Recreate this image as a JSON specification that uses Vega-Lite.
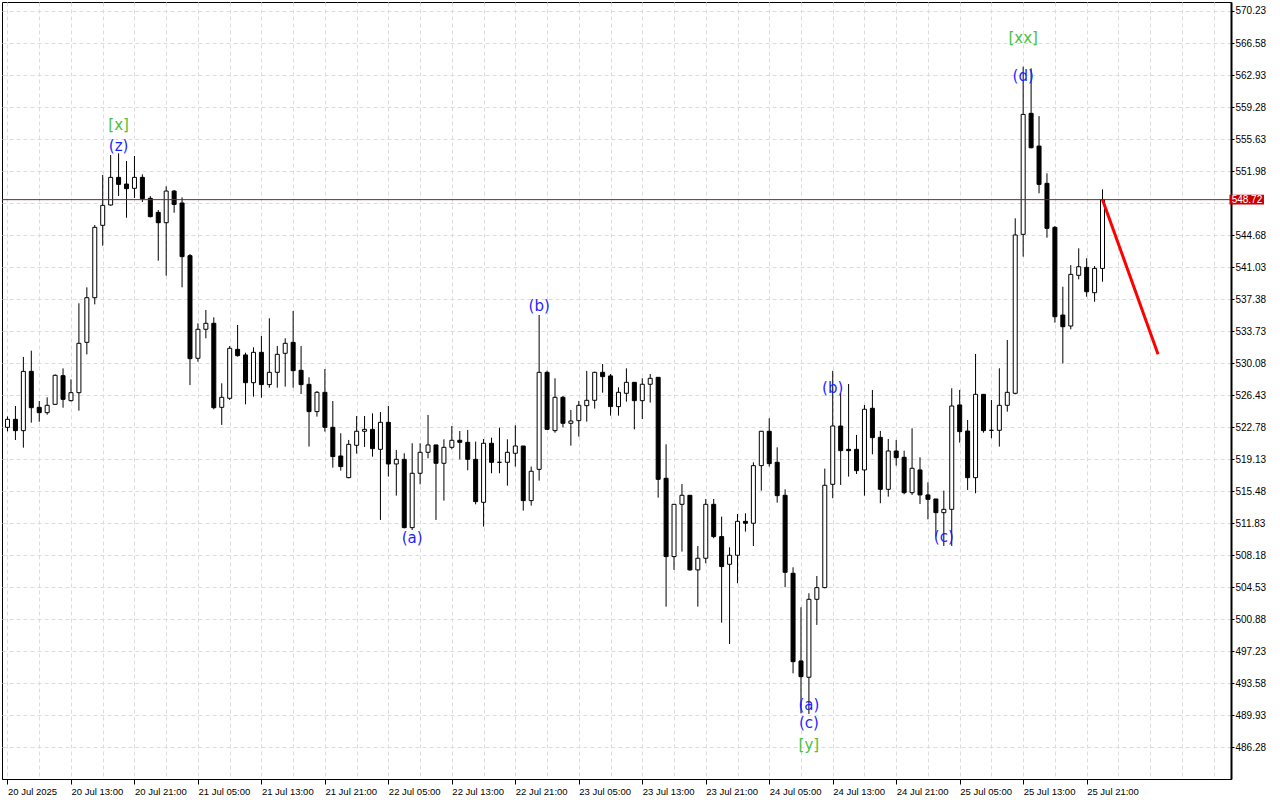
{
  "$schema": "https://vega.github.io/schema/vega-lite/v6.json",
  "width": 1229,
  "height": 777,
  "autosize": {"type": "none"},
  "padding": {"left": 2, "top": 2, "right": 49, "bottom": 21},
  "background": "white",
  "config": {
    "view": {"stroke": "black", "strokeWidth": 1},
    "axis": {"labelOverlap": false, "labelFlush": false, "labelBound": false, "title": null}
  },
  "resolve": {"axis": {"x": "independent", "y": "independent"}},
  "datasets": {
    "candles": [
      {"i":0,"o":522.76,"h":524.0,"l":522.3,"c":523.67},
      {"i":1,"o":523.67,"h":525.19,"l":521.31,"c":522.38},
      {"i":2,"o":522.38,"h":530.78,"l":520.44,"c":529.14},
      {"i":3,"o":529.14,"h":531.5,"l":523.29,"c":525.0},
      {"i":4,"o":525.04,"h":525.76,"l":523.4,"c":524.43},
      {"i":5,"o":524.43,"h":526.18,"l":524.2,"c":525.27},
      {"i":6,"o":525.38,"h":528.8,"l":525.3,"c":528.69},
      {"i":7,"o":528.65,"h":529.48,"l":525.0,"c":525.95},
      {"i":8,"o":525.8,"h":528.23,"l":525.7,"c":526.71},
      {"i":9,"o":526.71,"h":536.9,"l":524.66,"c":532.34},
      {"i":10,"o":532.45,"h":538.72,"l":531.08,"c":537.54},
      {"i":11,"o":537.54,"h":545.83,"l":536.78,"c":545.56},
      {"i":12,"o":545.79,"h":551.53,"l":543.47,"c":548.07},
      {"i":13,"o":548.11,"h":553.81,"l":548.03,"c":551.26},
      {"i":14,"o":551.26,"h":554.0,"l":549.13,"c":550.46},
      {"i":15,"o":550.5,"h":553.12,"l":546.66,"c":549.97},
      {"i":16,"o":550.01,"h":553.7,"l":548.91,"c":551.26},
      {"i":17,"o":551.26,"h":551.6,"l":548.45,"c":548.83},
      {"i":18,"o":548.87,"h":549.13,"l":546.7,"c":546.78},
      {"i":19,"o":547.27,"h":547.54,"l":541.76,"c":546.09},
      {"i":20,"o":546.09,"h":550.24,"l":540.05,"c":549.7},
      {"i":21,"o":549.7,"h":549.82,"l":547.23,"c":548.18},
      {"i":22,"o":548.34,"h":548.98,"l":538.72,"c":542.22},
      {"i":23,"o":542.33,"h":542.52,"l":527.58,"c":530.59},
      {"i":24,"o":530.63,"h":534.62,"l":530.25,"c":533.94},
      {"i":25,"o":533.94,"h":536.14,"l":532.91,"c":534.62},
      {"i":26,"o":534.62,"h":535.3,"l":524.81,"c":525.0},
      {"i":27,"o":525.04,"h":527.78,"l":523.03,"c":526.18},
      {"i":28,"o":526.07,"h":532.03,"l":525.88,"c":531.77},
      {"i":29,"o":531.65,"h":534.43,"l":530.82,"c":530.93},
      {"i":30,"o":531.01,"h":531.27,"l":525.38,"c":527.85},
      {"i":31,"o":527.85,"h":531.88,"l":526.26,"c":531.31},
      {"i":32,"o":531.31,"h":533.18,"l":526.14,"c":527.63},
      {"i":33,"o":527.63,"h":535.19,"l":527.28,"c":529.03},
      {"i":34,"o":529.03,"h":532.03,"l":527.28,"c":531.08},
      {"i":35,"o":531.2,"h":532.91,"l":527.4,"c":532.34},
      {"i":36,"o":532.45,"h":536.03,"l":527.28,"c":529.22},
      {"i":37,"o":529.26,"h":532.03,"l":526.56,"c":527.63},
      {"i":38,"o":527.66,"h":528.46,"l":520.56,"c":524.55},
      {"i":39,"o":524.55,"h":526.9,"l":523.98,"c":526.75},
      {"i":40,"o":526.75,"h":529.41,"l":522.27,"c":522.76},
      {"i":41,"o":522.76,"h":525.76,"l":518.16,"c":519.42},
      {"i":42,"o":519.49,"h":522.08,"l":517.82,"c":518.28},
      {"i":43,"o":517.02,"h":521.32,"l":516.95,"c":520.82},
      {"i":44,"o":520.71,"h":524.05,"l":519.76,"c":522.31},
      {"i":45,"o":522.31,"h":524.05,"l":520.52,"c":522.53},
      {"i":46,"o":522.53,"h":524.36,"l":519.42,"c":520.33},
      {"i":47,"o":520.25,"h":524.51,"l":512.2,"c":523.33},
      {"i":48,"o":523.33,"h":525.19,"l":517.14,"c":518.58},
      {"i":49,"o":518.58,"h":520.18,"l":514.97,"c":519.11},
      {"i":50,"o":519.11,"h":519.8,"l":511.24,"c":511.32},
      {"i":51,"o":511.32,"h":520.94,"l":511.05,"c":517.52},
      {"i":52,"o":517.52,"h":520.94,"l":516.26,"c":519.91},
      {"i":53,"o":519.91,"h":524.17,"l":519.23,"c":520.75},
      {"i":54,"o":520.75,"h":520.75,"l":512.2,"c":518.66},
      {"i":55,"o":518.66,"h":521.39,"l":514.4,"c":520.48},
      {"i":56,"o":520.48,"h":522.91,"l":520.25,"c":521.28},
      {"i":57,"o":521.28,"h":522.34,"l":519.11,"c":521.05},
      {"i":58,"o":521.05,"h":522.46,"l":517.86,"c":519.11},
      {"i":59,"o":519.11,"h":521.13,"l":513.98,"c":514.29},
      {"i":60,"o":514.21,"h":521.43,"l":511.44,"c":520.94},
      {"i":61,"o":520.94,"h":521.58,"l":517.52,"c":518.77},
      {"i":62,"o":518.77,"h":522.72,"l":517.52,"c":518.77},
      {"i":63,"o":518.77,"h":521.39,"l":516.11,"c":519.91},
      {"i":64,"o":519.8,"h":522.99,"l":518.28,"c":520.63},
      {"i":65,"o":520.63,"h":520.63,"l":513.26,"c":514.4},
      {"i":66,"o":514.4,"h":518.28,"l":513.83,"c":517.75},
      {"i":67,"o":517.97,"h":535.57,"l":516.68,"c":529.03},
      {"i":68,"o":529.03,"h":529.22,"l":522.46,"c":522.53},
      {"i":69,"o":522.38,"h":528.35,"l":522.15,"c":526.18},
      {"i":70,"o":526.18,"h":526.33,"l":522.76,"c":523.22},
      {"i":71,"o":523.22,"h":524.74,"l":520.67,"c":523.48},
      {"i":72,"o":523.52,"h":525.77,"l":521.7,"c":525.27},
      {"i":73,"o":525.23,"h":529.19,"l":523.41,"c":525.84},
      {"i":74,"o":525.84,"h":529.1,"l":524.89,"c":529.03},
      {"i":75,"o":529.03,"h":529.98,"l":526.71,"c":528.54},
      {"i":76,"o":528.62,"h":528.84,"l":524.09,"c":525.12},
      {"i":77,"o":525.12,"h":527.32,"l":524.09,"c":526.75},
      {"i":78,"o":526.64,"h":529.49,"l":525.69,"c":527.89},
      {"i":79,"o":527.89,"h":527.89,"l":522.53,"c":525.8},
      {"i":80,"o":525.8,"h":528.35,"l":523.71,"c":527.67},
      {"i":81,"o":527.67,"h":528.84,"l":525.58,"c":528.35},
      {"i":82,"o":528.46,"h":528.46,"l":514.74,"c":516.83},
      {"i":83,"o":516.95,"h":520.82,"l":502.31,"c":508.02},
      {"i":84,"o":508.02,"h":514.0,"l":506.5,"c":513.98},
      {"i":85,"o":513.98,"h":516.3,"l":508.59,"c":515.01},
      {"i":86,"o":515.01,"h":515.01,"l":506.42,"c":506.5},
      {"i":87,"o":506.5,"h":509.23,"l":502.31,"c":507.83},
      {"i":88,"o":507.83,"h":514.59,"l":507.26,"c":513.98},
      {"i":89,"o":513.98,"h":514.59,"l":510.11,"c":510.3},
      {"i":90,"o":510.3,"h":512.58,"l":500.49,"c":506.88},
      {"i":91,"o":507.14,"h":509.08,"l":498.06,"c":508.17},
      {"i":92,"o":508.17,"h":512.88,"l":504.98,"c":512.04},
      {"i":93,"o":512.04,"h":512.96,"l":510.87,"c":511.82},
      {"i":94,"o":511.82,"h":518.77,"l":509.23,"c":518.39},
      {"i":95,"o":518.39,"h":522.35,"l":515.54,"c":522.31},
      {"i":96,"o":522.31,"h":523.79,"l":518.28,"c":518.62},
      {"i":97,"o":518.77,"h":520.48,"l":514.17,"c":514.97},
      {"i":98,"o":515.01,"h":515.69,"l":504.52,"c":506.23},
      {"i":99,"o":506.12,"h":506.8,"l":494.71,"c":496.04},
      {"i":100,"o":496.12,"h":502.24,"l":490.15,"c":494.33},
      {"i":101,"o":494.26,"h":503.84,"l":490.08,"c":503.15},
      {"i":102,"o":503.15,"h":505.81,"l":500.23,"c":504.48},
      {"i":103,"o":504.48,"h":518.05,"l":504.41,"c":516.15},
      {"i":104,"o":516.26,"h":529.2,"l":514.67,"c":522.91},
      {"i":105,"o":522.91,"h":526.64,"l":516.19,"c":520.1},
      {"i":106,"o":520.25,"h":527.7,"l":517.14,"c":520.1},
      {"i":107,"o":520.25,"h":521.89,"l":517.44,"c":517.82},
      {"i":108,"o":517.9,"h":525.31,"l":514.97,"c":524.82},
      {"i":109,"o":524.93,"h":527.02,"l":519.68,"c":521.58},
      {"i":110,"o":521.62,"h":522.35,"l":514.1,"c":515.69},
      {"i":111,"o":515.69,"h":521.43,"l":514.86,"c":520.06},
      {"i":112,"o":520.06,"h":521.32,"l":518.39,"c":519.3},
      {"i":113,"o":519.34,"h":520.1,"l":515.12,"c":515.31},
      {"i":114,"o":515.31,"h":522.65,"l":515.05,"c":518.09},
      {"i":115,"o":517.9,"h":519.34,"l":514.02,"c":515.05},
      {"i":116,"o":515.05,"h":516.49,"l":512.27,"c":514.55},
      {"i":117,"o":514.59,"h":514.59,"l":510.3,"c":513.03},
      {"i":118,"o":513.03,"h":515.54,"l":509.23,"c":513.41},
      {"i":119,"o":513.41,"h":527.21,"l":509.23,"c":525.19},
      {"i":120,"o":525.31,"h":527.02,"l":521.01,"c":522.27},
      {"i":121,"o":522.34,"h":523.6,"l":515.62,"c":517.02},
      {"i":122,"o":517.02,"h":531.12,"l":515.24,"c":526.52},
      {"i":123,"o":526.52,"h":526.52,"l":522.15,"c":522.38},
      {"i":124,"o":522.42,"h":525.88,"l":521.51,"c":522.42},
      {"i":125,"o":522.42,"h":529.49,"l":520.56,"c":525.27},
      {"i":126,"o":525.27,"h":532.72,"l":524.55,"c":526.75},
      {"i":127,"o":526.64,"h":546.59,"l":526.52,"c":544.69},
      {"i":128,"o":544.76,"h":563.88,"l":542.22,"c":558.44},
      {"i":129,"o":558.56,"h":563.69,"l":554.57,"c":554.64},
      {"i":130,"o":554.83,"h":558.25,"l":549.44,"c":550.46},
      {"i":131,"o":550.58,"h":551.72,"l":544.38,"c":545.45},
      {"i":132,"o":545.56,"h":545.71,"l":534.69,"c":535.37},
      {"i":133,"o":535.56,"h":538.79,"l":530.05,"c":534.23},
      {"i":134,"o":534.31,"h":541.26,"l":533.93,"c":540.2},
      {"i":135,"o":540.09,"h":543.17,"l":539.63,"c":541.07},
      {"i":136,"o":541.0,"h":542.03,"l":537.65,"c":538.22},
      {"i":137,"o":538.11,"h":541.15,"l":537.08,"c":540.88},
      {"i":138,"o":540.88,"h":549.89,"l":539.36,"c":548.72}
    ],
    "labels": [
      {"i":14,"p":557.23,"t":"[x]","degree":"major"},
      {"i":14,"p":554.89,"t":"(z)","degree":"minor"},
      {"i":51,"p":510.14,"t":"(a)","degree":"minor"},
      {"i":67,"p":536.59,"t":"(b)","degree":"minor"},
      {"i":104,"p":527.24,"t":"(b)","degree":"minor"},
      {"i":101,"p":491.1,"t":"(a)","degree":"minor"},
      {"i":101,"p":489.05,"t":"(c)","degree":"minor"},
      {"i":101,"p":486.54,"t":"[y]","degree":"major"},
      {"i":118,"p":510.26,"t":"(c)","degree":"minor"},
      {"i":128,"p":562.82,"t":"(d)","degree":"minor"},
      {"i":128,"p":567.15,"t":"[xx]","degree":"major"}
    ],
    "forecast": [
      {"i":138,"p":548.72},
      {"i":145,"p":531.1}
    ],
    "bid": [
      {"price":548.72}
    ]
  },
  "layer": [
    {
      "data": {"name": "candles"},
      "mark": {"type": "rule", "color": "black", "strokeWidth": 1, "clip": true},
      "encoding": {
        "x": {
          "field": "i", "type": "quantitative",
          "scale": {"domain": [-0.0625, 153.5625], "nice": false, "zero": false},
          "axis": {
            "orient": "bottom", "title": null,
            "values": [0,4,8,12,16,20,24,28,32,36,40,44,48,52,56,60,64,68,72,76,80,84,88,92,96,100,104,108,112,116,120,124,128,132,136,140,144,148,152],
            "grid": true, "gridColor": "#dcdcdc", "gridDash": [4,3], "gridWidth": 1,
            "domain": true, "domainColor": "black", "domainWidth": 1,
            "ticks": true, "tickSize": 5, "tickColor": "black", "tickWidth": 1,
            "tickOpacity": {"condition": {"test": "datum.value % 8 === 0 && datum.value <= 136", "value": 1}, "value": 0},
            "labelExpr": "(datum.value % 8 !== 0 || datum.value > 136) ? '' : (datum.value === 0 ? '20 Jul 2025' : timeFormat(datetime(2025, 6, 20, 5 + datum.value), '%d %b %H:%M'))",
            "labelAlign": "left", "labelBaseline": "top", "labelPadding": 2,
            "labelFont": "Liberation Sans", "labelFontSize": 9.5, "labelColor": "black",
            "labelOverlap": false, "labelFlush": false, "labelBound": false
          }
        },
        "y": {
          "field": "l", "type": "quantitative",
          "scale": {"domain": [482.66, 571.256], "nice": false, "zero": false},
          "axis": {
            "orient": "right", "title": null,
            "values": [486.28,489.93,493.58,497.23,500.88,504.53,508.18,511.83,515.48,519.13,522.78,526.43,530.08,533.73,537.38,541.03,544.68,548.33,551.98,555.63,559.28,562.93,566.58,570.23],
            "labelExpr": "abs(datum.value - 548.33) < 0.01 ? '' : format(datum.value, '.2f')",
            "grid": true, "gridColor": "#dcdcdc", "gridDash": [4,3], "gridWidth": 1,
            "domain": true, "domainColor": "black", "domainWidth": 2,
            "ticks": true, "tickSize": 3, "tickColor": "black",
            "labelPadding": 1, "labelFont": "Liberation Sans", "labelFontSize": 10, "labelColor": "black",
            "labelOverlap": false, "labelFlush": false, "labelBound": false
          }
        },
        "y2": {"field": "h"}
      }
    },
    {
      "data": {"name": "candles"},
      "mark": {"type": "bar", "size": 4, "stroke": "black", "strokeWidth": 1, "clip": true},
      "encoding": {
        "x": {"field": "i", "type": "quantitative", "scale": {"domain": [-0.0625, 153.5625], "nice": false, "zero": false}, "axis": null},
        "y": {"field": "o", "type": "quantitative", "scale": {"domain": [482.66, 571.256], "nice": false, "zero": false}, "axis": null},
        "y2": {"field": "c"},
        "fill": {"condition": {"test": "datum.c >= datum.o", "value": "white"}, "value": "black"}
      }
    },
    {
      "data": {"name": "bid"},
      "mark": {"type": "rule", "color": "#6e2a2a", "strokeWidth": 1},
      "encoding": {
        "y": {"field": "price", "type": "quantitative", "scale": {"domain": [482.66, 571.256], "nice": false, "zero": false}, "axis": null}
      }
    },
    {
      "data": {"name": "forecast"},
      "mark": {"type": "line", "color": "#ff0000", "strokeWidth": 3},
      "encoding": {
        "x": {"field": "i", "type": "quantitative", "scale": {"domain": [-0.0625, 153.5625], "nice": false, "zero": false}, "axis": null},
        "y": {"field": "p", "type": "quantitative", "scale": {"domain": [482.66, 571.256], "nice": false, "zero": false}, "axis": null}
      }
    },
    {
      "data": {"name": "labels"},
      "mark": {"type": "text", "font": "DejaVu Sans", "fontSize": 15, "align": "center", "baseline": "middle"},
      "encoding": {
        "x": {"field": "i", "type": "quantitative", "scale": {"domain": [-0.0625, 153.5625], "nice": false, "zero": false}, "axis": null},
        "y": {"field": "p", "type": "quantitative", "scale": {"domain": [482.66, 571.256], "nice": false, "zero": false}, "axis": null},
        "text": {"field": "t"},
        "color": {"field": "degree", "type": "nominal", "scale": {"domain": ["minor", "major"], "range": ["#1f1fff", "#4cc13c"]}, "legend": null}
      }
    },
    {
      "data": {"name": "bid"},
      "mark": {"type": "rect", "color": "#cc0000"},
      "encoding": {
        "x": {"datum": 154.0, "type": "quantitative", "scale": {"domain": [-0.0625, 153.5625], "nice": false, "zero": false}, "axis": null},
        "x2": {"datum": 158.35},
        "y": {"datum": 549.27, "type": "quantitative", "scale": {"domain": [482.66, 571.256], "nice": false, "zero": false}, "axis": null},
        "y2": {"datum": 548.17}
      }
    },
    {
      "data": {"name": "bid"},
      "mark": {"type": "text", "font": "Liberation Sans", "fontSize": 10, "color": "white", "align": "center", "baseline": "middle"},
      "encoding": {
        "x": {"datum": 156.2, "type": "quantitative", "scale": {"domain": [-0.0625, 153.5625], "nice": false, "zero": false}, "axis": null},
        "y": {"field": "price", "type": "quantitative", "scale": {"domain": [482.66, 571.256], "nice": false, "zero": false}, "axis": null},
        "text": {"field": "price", "type": "quantitative", "format": ".2f"}
      }
    }
  ]
}
